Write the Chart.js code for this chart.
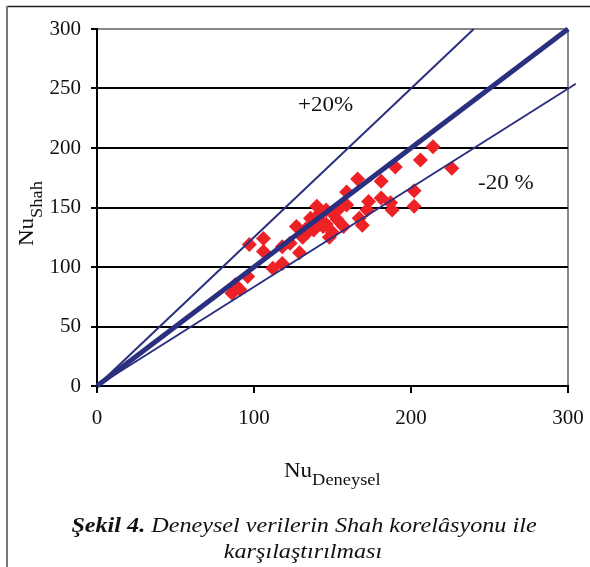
<!DOCTYPE html>
<html>
<head>
<meta charset="utf-8">
<script src="https://cdn.jsdelivr.net/npm/chart.js@4/dist/chart.umd.min.js"></script>
<style>
html, body { margin: 0; padding: 0; background: #fff; }
#kutu { width: 590px; height: 567px; position: relative; }
</style>
</head>
<body>
<div id="kutu"><canvas id="grafik" width="590" height="567"></canvas></div>
<script>
// Deney verileri (Nu deneysel / Nu Shah)
const nuDeneysel = [214, 206, 226, 190, 166, 181, 159, 202, 202, 181, 173, 187, 188, 172, 167, 169,
	159, 155, 140, 146, 136, 142, 127, 150, 138, 144, 153, 157, 106, 131, 118, 148, 97, 106, 112, 118,
	96, 88, 91, 86, 123, 129, 134, 141, 138, 146, 133, 150];
const nuShah = [201, 190, 183, 184, 174, 172, 163, 164, 151, 158, 155, 154, 148, 148, 141, 135,
	152, 150, 151, 148, 141, 140, 134, 129, 131, 134, 140, 134, 124, 125, 117, 125, 119, 113, 99, 103,
	92, 85, 81, 78, 120, 112, 129, 144, 138, 136, 132, 145];

// Referans doğruları (uç noktalar)
const esitX = [0, 300];
const esitY = [0, 300];
const arti20X = [0, 240];
const arti20Y = [0, 300];
const eksi20X = [0, 305];
const eksi20Y = [0, 254];

const xEtiketler = [0, 100, 200, 300];
const yEtiketler = [0, 50, 100, 150, 200, 250, 300];

const lacivert = '#2b2f7f';
const kirmizi = '#ee2226';
const yaziTipi = "'Liberation Serif', 'Times New Roman', serif";
const genislik = 1.15; // orijinaldeki yatay yazı genişliği

Chart.defaults.font.family = yaziTipi;
Chart.defaults.color = '#111';

function noktalar(xs, ys) {
	return xs.map(function (x, i) { return { x: x, y: ys[i] }; });
}

// yatayda genişletilmiş yazı
function yaz(ctx, metin, x, y, font) {
	ctx.save();
	ctx.font = font;
	ctx.translate(x, y);
	ctx.scale(genislik, 1);
	ctx.fillText(metin, 0, 0);
	const w = ctx.measureText(metin).width * genislik;
	ctx.restore();
	return w;
}

function olc(ctx, metin, font) {
	ctx.font = font;
	return ctx.measureText(metin).width * genislik;
}

// Alt indisli eksen başlığı
function altIndisli(ctx, ana, alt, x, y, anaBoy, altBoy, kayma) {
	const g1 = yaz(ctx, ana, x, y, anaBoy + 'px ' + yaziTipi);
	yaz(ctx, alt, x + g1, y + kayma, altBoy + 'px ' + yaziTipi);
}

const ekler = {
	id: 'ekler',
	afterDraw: function (chart) {
		const ctx = chart.ctx;
		ctx.save();
		// çerçeve
		ctx.strokeStyle = '#222';
		ctx.lineWidth = 1.5;
		ctx.beginPath();
		ctx.moveTo(7, 6.5);
		ctx.lineTo(590, 6.5);
		ctx.stroke();
		ctx.strokeStyle = '#777';
		ctx.lineWidth = 2;
		ctx.beginPath();
		ctx.moveTo(7, 6);
		ctx.lineTo(7, 567);
		ctx.stroke();

		ctx.fillStyle = '#111';
		ctx.textBaseline = 'alphabetic';
		ctx.textAlign = 'left';

		// x başlığı
		altIndisli(ctx, 'Nu', 'Deneysel', 284, 477, 20, 16, 8);

		// y başlığı
		ctx.save();
		ctx.translate(33, 246);
		ctx.rotate(-Math.PI / 2);
		altIndisli(ctx, 'Nu', 'Shah', 0, 0, 20, 16, 9);
		ctx.restore();

		// yüzde etiketleri
		yaz(ctx, '+20%', 298, 111, '20px ' + yaziTipi);
		yaz(ctx, '-20 %', 478, 189, '20px ' + yaziTipi);

		// şekil altyazısı
		const kalin = 'italic bold 21px ' + yaziTipi;
		const egik = 'italic 21px ' + yaziTipi;
		const s1 = 'Şekil 4.';
		const s2 = ' Deneysel verilerin Shah korelâsyonu ile';
		const s3 = 'karşılaştırılması';
		const w1 = olc(ctx, s1, kalin);
		const w2 = olc(ctx, s2, egik);
		const x0 = 304 - (w1 + w2) / 2;
		yaz(ctx, s1, x0, 532, kalin);
		yaz(ctx, s2, x0 + w1, 532, egik);
		const w3 = olc(ctx, s3, egik);
		yaz(ctx, s3, 303 - w3 / 2, 558, egik);
		ctx.restore();
	}
};

new Chart(document.getElementById('grafik'), {
	type: 'scatter',
	data: {
		datasets: [
			{
				label: 'Deneysel',
				data: noktalar(nuDeneysel, nuShah),
				pointStyle: 'rectRot',
				pointRadius: 7.5,
				backgroundColor: kirmizi,
				borderColor: kirmizi,
				borderWidth: 0,
				order: 2,
			},
			{
				label: 'y = x',
				type: 'line',
				data: noktalar(esitX, esitY),
				borderColor: lacivert,
				borderWidth: 5,
				pointRadius: 0,
				clip: false,
				order: 1,
			},
			{
				label: '+20%',
				type: 'line',
				data: noktalar(arti20X, arti20Y),
				borderColor: lacivert,
				borderWidth: 2,
				pointRadius: 0,
				clip: false,
				order: 1,
			},
			{
				label: '-20%',
				type: 'line',
				data: noktalar(eksi20X, eksi20Y),
				borderColor: lacivert,
				borderWidth: 2,
				pointRadius: 0,
				clip: false,
				order: 1,
			},
		],
	},
	options: {
		responsive: false,
		animation: false,
		devicePixelRatio: 1,
		layout: { padding: { top: 29, right: 22, left: 0, bottom: 0 } },
		plugins: {
			legend: { display: false },
			tooltip: { enabled: false },
		},
		scales: {
			x: {
				type: 'linear',
				min: 0,
				max: 300,
				afterBuildTicks: function (s) { s.ticks = xEtiketler.map(function (v) { return { value: v }; }); },
				afterFit: function (s) { s.height = 181; s.paddingLeft = 0; s.paddingRight = 0; },
				border: { color: '#000', width: 2 },
				grid: {
					color: function (c) { return c.tick && c.tick.value === 300 ? '#888' : 'rgba(0,0,0,0)'; },
					lineWidth: 2,
					tickColor: '#000',
					tickLength: 7,
				},
				ticks: { font: { size: 21 }, padding: 13, color: '#111' },
			},
			y: {
				type: 'linear',
				min: 0,
				max: 300,
				afterBuildTicks: function (s) { s.ticks = yEtiketler.map(function (v) { return { value: v }; }); },
				afterFit: function (s) { s.width = 97; s.paddingTop = 0; s.paddingBottom = 0; },
				border: { color: '#000', width: 2 },
				grid: {
					color: function (c) { return c.tick && c.tick.value === 300 ? '#888' : '#000'; },
					lineWidth: 2,
					tickColor: '#000',
					tickLength: 6,
				},
				ticks: { font: { size: 21 }, padding: 10, color: '#111' },
			},
		},
	},
	plugins: [ekler],
});
</script>
</body>
</html>
